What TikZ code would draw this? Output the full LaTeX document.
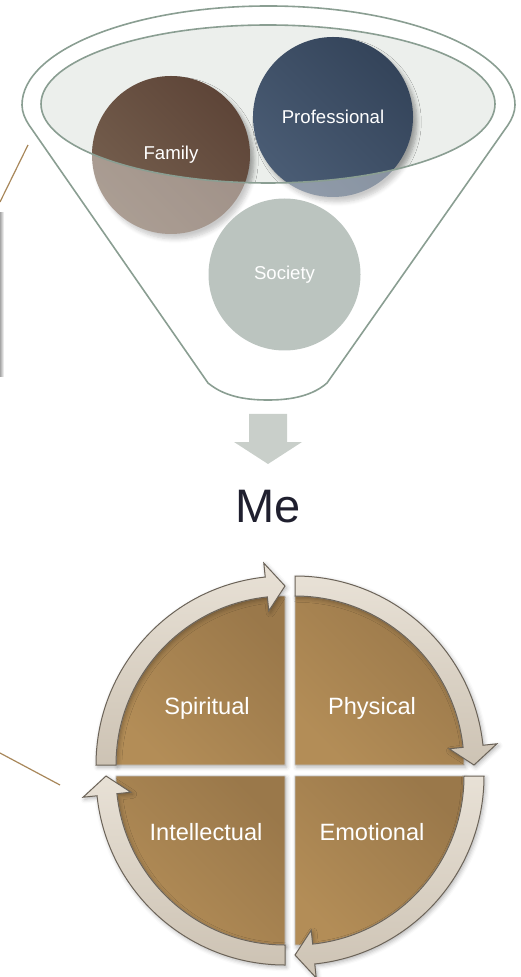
\documentclass[tikz,border=0pt]{standalone}
\usepackage{fontspec}
\setmainfont{Liberation Sans}
\usetikzlibrary{calc,shadows.blur}
\definecolor{funnelline}{HTML}{8A9E92}
\definecolor{rimfill}{HTML}{ECEFEC}
\definecolor{famA}{HTML}{76604F}
\definecolor{famB}{HTML}{5E4538}
\definecolor{proA}{HTML}{4A5C74}
\definecolor{proB}{HTML}{34445A}
\definecolor{socC}{HTML}{91A098}
\definecolor{arrowgray}{HTML}{C9CFCA}
\definecolor{metext}{HTML}{1F1F2E}
\definecolor{quadA}{HTML}{B38D57}
\definecolor{quadB}{HTML}{9A784A}
\definecolor{ringA}{HTML}{E8E1D6}
\definecolor{ringB}{HTML}{CDC3B4}
\definecolor{ringline}{HTML}{6B6358}
\definecolor{leaderline}{HTML}{A8875A}
\tikzset{
  bubble/.style={circle, inner sep=0pt, text=white,
    font=\fontsize{9.3pt}{11pt}\selectfont,
    blur shadow={shadow xshift=2pt, shadow yshift=-2.5pt, shadow blur steps=6, shadow opacity=35}},
  quadstyle/.style={left color=quadA, right color=quadB, shading angle=135,
    draw=black!25, line width=0.4pt,
    blur shadow={shadow xshift=0.8pt, shadow yshift=-1pt, shadow blur steps=4, shadow opacity=30}},
  ringstyle/.style={top color=ringA, bottom color=ringB, draw=ringline, line width=0.5pt,
    blur shadow={shadow xshift=0.8pt, shadow yshift=-1pt, shadow blur steps=4, shadow opacity=30}},
  cyclelabel/.style={text=white, font=\fontsize{11.8pt}{14pt}\selectfont},
  leader/.style={draw=leaderline, line width=0.6pt},
}
\newcommand\funnelpath{(22,105) arc[start angle=180, end angle=360, x radius=246.5, y radius=99]
  .. controls (515,112) and (512,119) .. (508,125) -- (327,383)
  .. controls (310,398) and (285,400) .. (268,400)
  .. controls (250,400) and (226,398) .. (208,383) -- (29,125)
  .. controls (25,119) and (22,112) .. (22,105) -- cycle}
\newcommand\rimellipse{(268,104) ellipse[x radius=227, y radius=79]}
\newcommand\cyclequad[2]{%
  \path[quadstyle] (#1) -- ($(#1)+(#2:169)$) arc[start angle=#2, end angle=#2+90, radius=169] -- cycle;}
\newcommand\cyclearrow[3]{%
  \path[ringstyle] ($(#1)+(#2:189)$) arc[start angle=#2, end angle=#3-6, radius=189]
    -- ($(#1)+(#3-6:203)$) -- ($(#1)+(#3:179)$) -- ($(#1)+(#3-6:155)$)
    -- ($(#1)+(#3-6:169)$) arc[start angle=#3-6, end angle=#2, radius=169] -- cycle;}
\begin{document}
\begin{tikzpicture}[x=0.5pt,y=-0.5pt]
\useasboundingbox (0,0) rectangle (520,977);
\clip (0,0) rectangle (520,977);

% left edge remnants
\shade[left color=black!35, right color=white] (0,213) rectangle (4,377);
\coordinate (l1a) at (28,145);
\coordinate (l1b) at (0,202);
\coordinate (l2a) at (0,753);
\coordinate (l2b) at (60,785);
\draw[leader] (l1a) -- (l1b);
\draw[leader] (l2a) -- (l2b);

% funnel
\fill[rimfill] \rimellipse;
\node[bubble, minimum size=79pt, left color=famA, right color=famB, shading angle=135] (family) at (171,155) {Family};
\node[bubble, minimum size=80pt, left color=proA, right color=proB, shading angle=135] (professional) at (333,117) {Professional};
\node[bubble, minimum size=76pt, fill=socC, blur shadow={shadow opacity=0}] (society) at (284.5,274.5) {Society};
\fill[white, fill opacity=0.39, even odd rule] \funnelpath \rimellipse;
\draw[funnelline, line width=0.8pt] \funnelpath;
\draw[funnelline, line width=0.8pt] \rimellipse;

% down arrow
\fill[arrowgray] (249,414) -- (287,414) -- (287,442) -- (302,442) -- (268,464) -- (234,442) -- (249,442) -- cycle;

% Me
\node[text=metext, font=\fontsize{23.5pt}{28pt}\selectfont] (me) at (268,507) {Me};

% cycle
\coordinate (S) at (285,765);
\coordinate (P) at (295,765);
\coordinate (E) at (295,776);
\coordinate (I) at (285,776);
\cyclequad{S}{180}
\cyclequad{P}{270}
\cyclequad{E}{0}
\cyclequad{I}{90}
\cyclearrow{S}{180}{270}
\cyclearrow{P}{270}{360}
\cyclearrow{E}{0}{90}
\cyclearrow{I}{90}{180}
\node[cyclelabel] (spiritual) at (207,708) {Spiritual};
\node[cyclelabel] (physical) at (372,708) {Physical};
\node[cyclelabel] (intellectual) at (206,832) {Intellectual};
\node[cyclelabel] (emotional) at (372,832) {Emotional};
\end{tikzpicture}
\end{document}
